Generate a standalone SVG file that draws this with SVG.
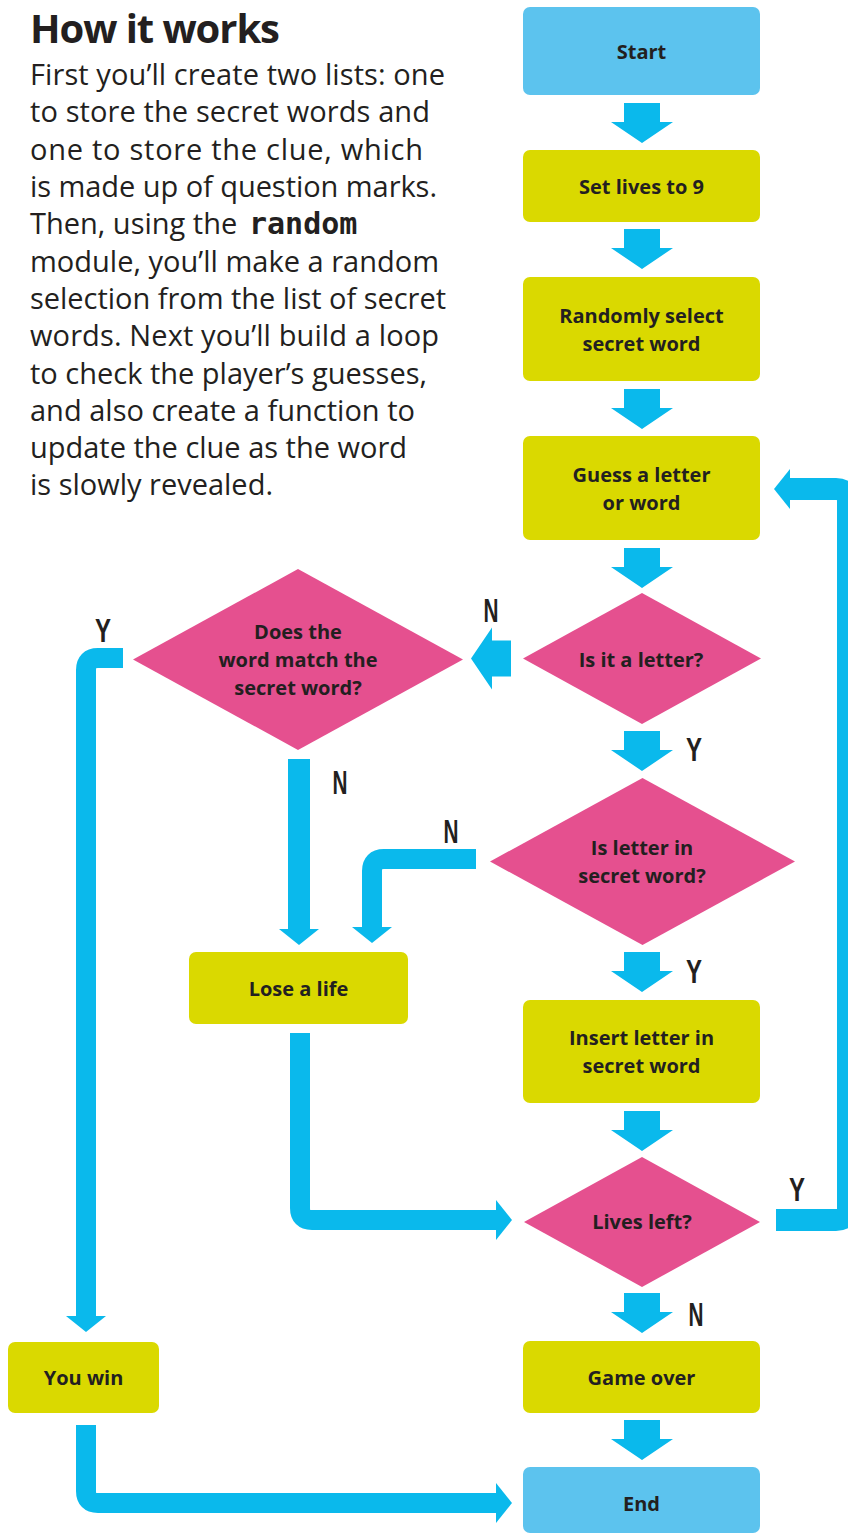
<svg xmlns="http://www.w3.org/2000/svg" width="848" height="1535" viewBox="0 0 848 1535">
<style>
.body{font-family:"Open Sans","Liberation Sans",sans-serif;font-size:29px;fill:#231f20}
.head{font-family:"Open Sans","Liberation Sans",sans-serif;font-size:40px;font-weight:bold;fill:#231f20}
.mono{font-family:"DejaVu Sans Mono","Liberation Mono",monospace;font-weight:bold;font-size:30px}
.lbl{font-family:"Open Sans","Liberation Sans",sans-serif;font-size:20px;font-weight:bold;fill:#231f20;text-anchor:middle}
.yn{font-family:"Liberation Sans",sans-serif;font-size:33px;font-weight:bold;fill:#231f20;text-anchor:middle}
.term{fill:#5cc3ee}
.proc{fill:#dad900}
.dec{fill:#e5508f}
.big{fill:#0ab9ec}
.thin{fill:none;stroke:#0ab9ec;stroke-width:20;stroke-linejoin:round}
</style>
<defs>
<path id="bigArrow" d="M-18,0 H18 V19 H31 L0,40 L-31,19 H-18 Z"/>
<marker id="head" viewBox="0 -20 16 40" markerWidth="16" markerHeight="40" refX="0" refY="0" orient="auto" markerUnits="userSpaceOnUse">
<path d="M0,-20 L16,0 L0,20 Z" fill="#0ab9ec"/>
</marker>
</defs>

<g id="intro">
<text class="head" x="30" y="43" textLength="250">How it works</text>
<text class="body" x="30" y="85" textLength="415">First you’ll create two lists: one</text>
<text class="body" x="30" y="122" textLength="400">to store the secret words and</text>
<text class="body" x="30" y="160" textLength="393">one to store the clue, which</text>
<text class="body" x="30" y="197" textLength="407">is made up of question marks.</text>
<text class="body" x="30" y="234">Then, using the <tspan class="mono" x="249">random</tspan></text>
<text class="body" x="30" y="272" textLength="409">module, you’ll make a random</text>
<text class="body" x="30" y="309" textLength="416">selection from the list of secret</text>
<text class="body" x="30" y="346" textLength="409">words. Next you’ll build a loop</text>
<text class="body" x="30" y="384" textLength="397">to check the player’s guesses,</text>
<text class="body" x="30" y="421" textLength="385">and also create a function to</text>
<text class="body" x="30" y="458" textLength="377">update the clue as the word</text>
<text class="body" x="30" y="495" textLength="243">is slowly revealed.</text>
</g>

<g id="connectors">
<use href="#bigArrow" class="big" transform="translate(642,103)"/>
<use href="#bigArrow" class="big" transform="translate(642,229)"/>
<use href="#bigArrow" class="big" transform="translate(642,389)"/>
<use href="#bigArrow" class="big" transform="translate(642,548)"/>
<use href="#bigArrow" class="big" transform="translate(642,731)"/>
<use href="#bigArrow" class="big" transform="translate(642,952)"/>
<use href="#bigArrow" class="big" transform="translate(642,1111)"/>
<use href="#bigArrow" class="big" transform="translate(642,1293)"/>
<use href="#bigArrow" class="big" transform="translate(642,1420)"/>
<use href="#bigArrow" class="big" transform="translate(511,658.5) rotate(90)"/>
<path class="thin" d="M123,658 H98 Q86,658 86,670 V1316" marker-end="url(#head)"/>
<path class="thin" d="M299,759 V929" style="stroke-width:22" marker-end="url(#head)"/>
<path class="thin" d="M476,859 H384 Q372,859 372,871 V927" marker-end="url(#head)"/>
<path class="thin" d="M300,1033 V1208 Q300,1220 312,1220 H496" marker-end="url(#head)"/>
<path class="thin" d="M776,1220 H836 Q848,1220 848,1208 V501 Q848,489 836,489 H790" style="stroke-width:22" marker-end="url(#head)"/>
<path class="thin" d="M86,1425 V1491 Q86,1503 98,1503 H496" marker-end="url(#head)"/>
<text class="yn" x="491" y="622" textLength="15" lengthAdjust="spacingAndGlyphs">N</text>
<text class="yn" x="103" y="642" textLength="16" lengthAdjust="spacingAndGlyphs">Y</text>
<text class="yn" x="694" y="761" textLength="16" lengthAdjust="spacingAndGlyphs">Y</text>
<text class="yn" x="340" y="794" textLength="15" lengthAdjust="spacingAndGlyphs">N</text>
<text class="yn" x="451" y="843" textLength="15" lengthAdjust="spacingAndGlyphs">N</text>
<text class="yn" x="694" y="983" textLength="16" lengthAdjust="spacingAndGlyphs">Y</text>
<text class="yn" x="797" y="1201" textLength="16" lengthAdjust="spacingAndGlyphs">Y</text>
<text class="yn" x="696" y="1326" textLength="15" lengthAdjust="spacingAndGlyphs">N</text>
</g>

<g id="start">
<rect class="term" x="523" y="7" width="237" height="88" rx="7"/>
<text class="lbl" x="641.5" y="59">Start</text>
</g>
<g id="set-lives">
<rect class="proc" x="523" y="150" width="237" height="72" rx="7"/>
<text class="lbl" x="641.5" y="194">Set lives to 9</text>
</g>
<g id="random-select">
<rect class="proc" x="523" y="277" width="237" height="104" rx="7"/>
<text class="lbl" x="641.5" y="323">Randomly select</text>
<text class="lbl" x="641.5" y="351">secret word</text>
</g>
<g id="guess">
<rect class="proc" x="523" y="436" width="237" height="104" rx="7"/>
<text class="lbl" x="641.5" y="482">Guess a letter</text>
<text class="lbl" x="641.5" y="510">or word</text>
</g>
<g id="is-letter">
<polygon class="dec" points="523,658.5 642,593 761,658.5 642,724"/>
<text class="lbl" x="641" y="667">Is it a letter?</text>
</g>
<g id="word-match">
<polygon class="dec" points="133,659.5 298,569 463,659.5 298,750"/>
<text class="lbl" x="298" y="639">Does the</text>
<text class="lbl" x="298" y="667">word match the</text>
<text class="lbl" x="298" y="695">secret word?</text>
</g>
<g id="letter-in-word">
<polygon class="dec" points="490,861.5 642.5,778 795,861.5 642.5,945"/>
<text class="lbl" x="642" y="855">Is letter in</text>
<text class="lbl" x="642" y="883">secret word?</text>
</g>
<g id="lose-life">
<rect class="proc" x="189" y="952" width="219" height="72" rx="7"/>
<text class="lbl" x="298.5" y="996">Lose a life</text>
</g>
<g id="insert-letter">
<rect class="proc" x="523" y="1000" width="237" height="103" rx="7"/>
<text class="lbl" x="641.5" y="1045">Insert letter in</text>
<text class="lbl" x="641.5" y="1073">secret word</text>
</g>
<g id="lives-left">
<polygon class="dec" points="524,1222 642,1157 760,1222 642,1287"/>
<text class="lbl" x="642" y="1229">Lives left?</text>
</g>
<g id="game-over">
<rect class="proc" x="523" y="1341" width="237" height="72" rx="7"/>
<text class="lbl" x="641.5" y="1385">Game over</text>
</g>
<g id="you-win">
<rect class="proc" x="8" y="1342" width="151" height="71" rx="7"/>
<text class="lbl" x="83.5" y="1385">You win</text>
</g>
<g id="end">
<rect class="term" x="523" y="1467" width="237" height="66" rx="7"/>
<text class="lbl" x="641.5" y="1511">End</text>
</g>
</svg>
